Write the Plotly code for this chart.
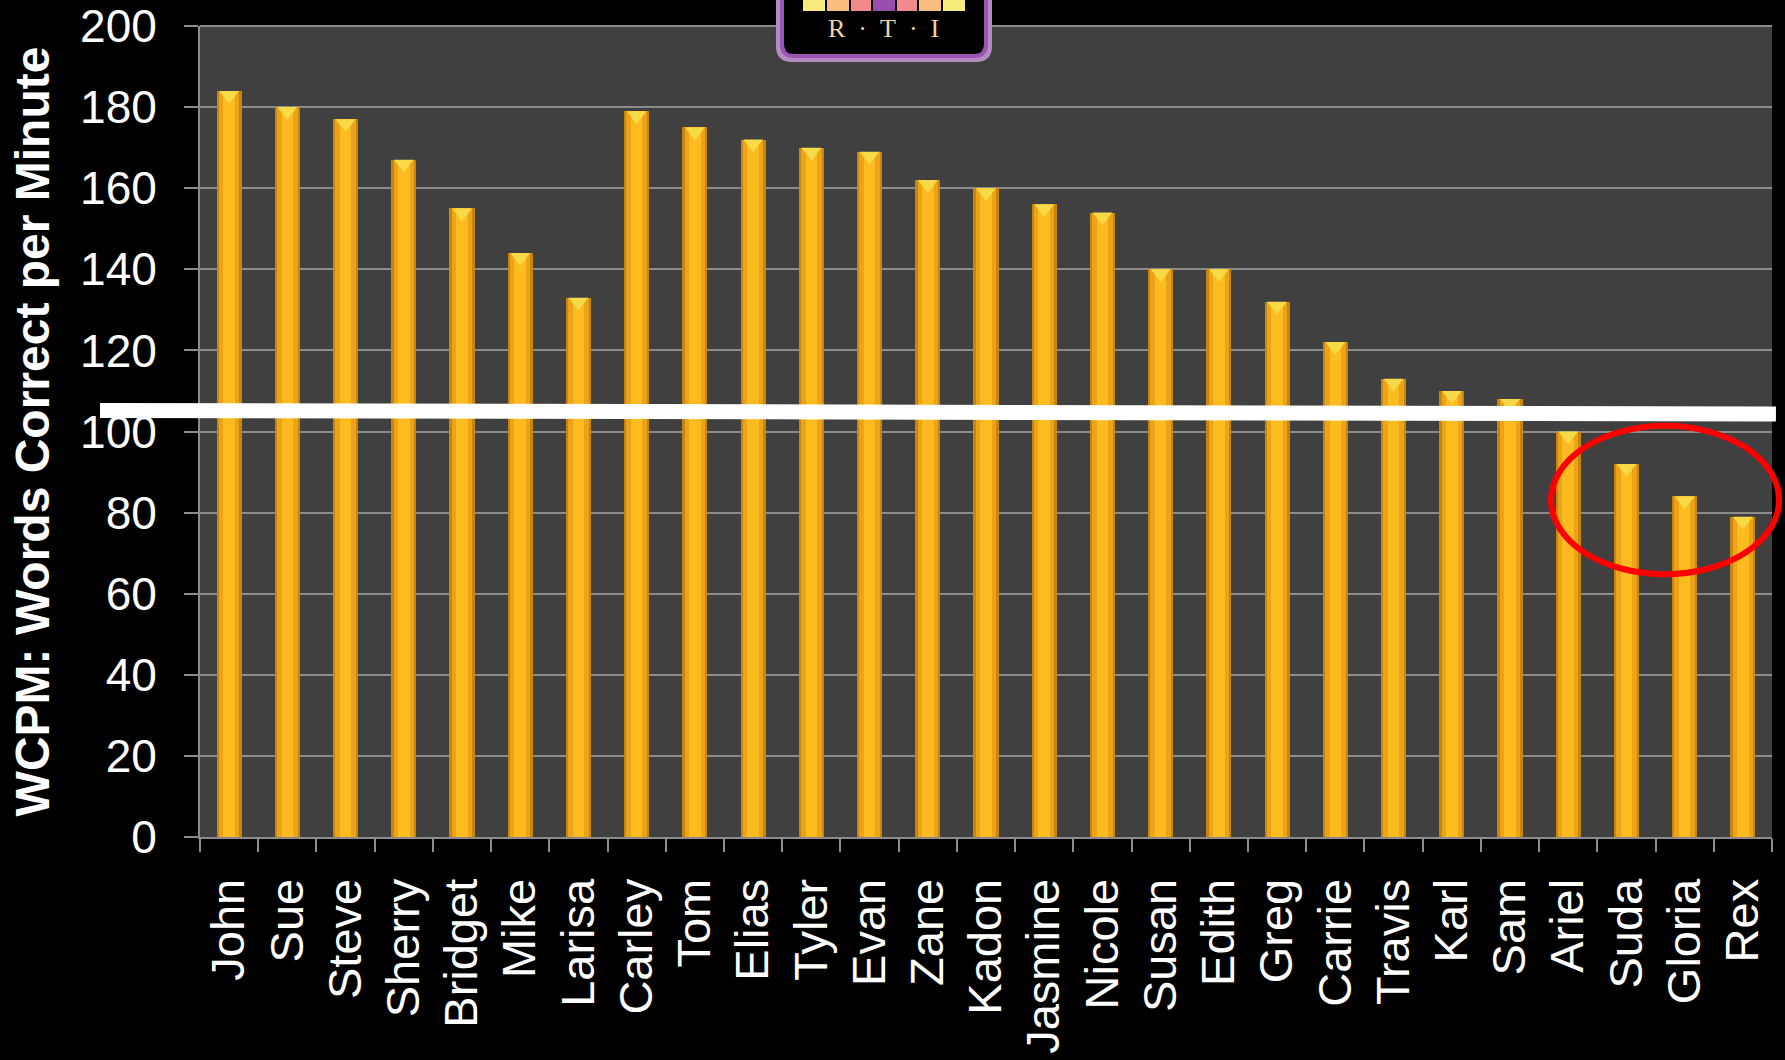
import plotly.graph_objects as go

# Students and their oral reading fluency scores (words correct per minute)
students = ["John", "Sue", "Steve", "Sherry", "Bridget", "Mike", "Larisa", "Carley",
            "Tom", "Elias", "Tyler", "Evan", "Zane", "Kadon", "Jasmine", "Nicole",
            "Susan", "Edith", "Greg", "Carrie", "Travis", "Karl", "Sam", "Ariel",
            "Suda", "Gloria", "Rex"]
wcpm = [184, 180, 177, 167, 155, 144, 133, 179, 175, 172, 170, 169, 162, 160,
        156, 154, 140, 140, 132, 122, 113, 110, 108, 100, 92, 84, 79]

# Benchmark line (slightly tilted as drawn) and the highlighted at-risk zone
benchmark_left = 105.2
benchmark_right = 104.3
risk_zone_top = 101.4
risk_zone_bottom = 64.8

y_ticks = [0, 20, 40, 60, 80, 100, 120, 140, 160, 180, 200]

FONT = "Liberation Sans, Arial, sans-serif"
GRID = "#8C8C8C"

fig = go.Figure()

# Layered bars give the gold, rounded look: dark rim, body, bright core
for width, color in [(0.43, "#C5850E"), (0.35, "#EDA318"), (0.2, "#FCBC20")]:
    fig.add_trace(go.Bar(
        x=students, y=wcpm, width=width,
        marker=dict(color=color, line=dict(width=0)),
        hoverinfo="x+y", showlegend=False,
    ))

# Bevelled highlight on the top face of every bar
fig.add_trace(go.Scatter(
    x=students, y=[v - 1.05 for v in wcpm], mode="markers",
    marker=dict(symbol="triangle-down", size=17, color="#F8DA48",
                line=dict(width=0)),
    hoverinfo="skip", showlegend=False,
))

shapes = [
    # top gridline (at the very edge of the value range)
    dict(type="line", xref="paper", yref="paper", x0=0, x1=1, y0=1, y1=1,
         line=dict(color=GRID, width=2), layer="below"),
    # benchmark
    dict(type="line", xref="paper", yref="y",
         x0=-0.0636, x1=1.0025, y0=benchmark_left, y1=benchmark_right,
         line=dict(color="white", width=15), layer="above"),
    # at-risk students ring
    dict(type="circle", xref="paper", yref="y",
         x0=0.8594, x1=1.0045, y0=risk_zone_bottom, y1=risk_zone_top,
         line=dict(color="#FF0000", width=6), layer="above"),
]

# RTI badge at the top of the chart (pixel-sized, anchored to the plot top)
LOGO_X = 0.4351


def badge(**kw):
    base = dict(xref="paper", yref="paper", xsizemode="pixel", ysizemode="pixel",
                xanchor=LOGO_X, yanchor=1, layer="above")
    base.update(kw)
    return base


shapes.append(badge(type="path",
                    path="M -107,44 L -107,-20 Q -107,-35 -92,-35 L 92,-35 "
                         "Q 107,-35 107,-20 L 107,44 Z",
                    fillcolor="#B48AC2", line=dict(color="#B48AC2", width=2)))
shapes.append(badge(type="path",
                    path="M -102,44 L -102,-18 Q -102,-30 -90,-30 L 90,-30 "
                         "Q 102,-30 102,-18 L 102,44 Z",
                    fillcolor="#000000", line=dict(color="#9A55B0", width=4)))

fan = [(-81, -59, "#F6EC7E"), (-57, -35, "#FBBE7E"), (-33, -13, "#F08A8E"),
       (-11, 11, "#9A4DB0"), (13, 33, "#F08A8E"), (35, 57, "#FBBE7E"),
       (59, 81, "#F6EC7E")]
for x0, x1, col in fan:
    shapes.append(badge(type="rect", x0=x0, x1=x1, y0=15, y1=44,
                        fillcolor=col, line=dict(width=0)))

annotations = [
    dict(text="R\u00a0\u00a0·\u00a0\u00a0T\u00a0\u00a0·\u00a0\u00a0I",
         xref="paper", yref="paper", x=LOGO_X, y=1, yshift=-2,
         xanchor="center", yanchor="middle", showarrow=False,
         font=dict(family="Liberation Serif, DejaVu Serif, serif", size=26,
                   color="#F2D2A6")),
]

fig.update_layout(
    width=1785, height=1060,
    margin=dict(l=200, r=13, t=26, b=223, autoexpand=False),
    paper_bgcolor="#000000", plot_bgcolor="#404040",
    barmode="overlay", bargap=0,
    font=dict(family=FONT, color="white"),
    shapes=shapes, annotations=annotations,
    showlegend=False,
)

fig.update_xaxes(
    type="category", tickangle=-90,
    range=[-0.5, len(students) - 0.5],
    tickmode="array", tickvals=students, ticktext=students,
    tickfont=dict(size=47, color="white", family=FONT),
    showline=True, linecolor=GRID, linewidth=2,
    ticks="outside", tickson="boundaries", ticklen=13, tickwidth=2, tickcolor=GRID,
    ticklabelstandoff=21, showgrid=False, zeroline=False,
)

fig.update_yaxes(
    range=[0, 200], tickvals=y_ticks,
    tickfont=dict(size=46, color="white", family=FONT),
    ticklabeloverflow="allow",
    showline=True, linecolor=GRID, linewidth=2,
    ticks="outside", ticklen=14, tickwidth=2, tickcolor=GRID,
    ticklabelstandoff=18,
    showgrid=True, gridcolor=GRID, gridwidth=2, zeroline=False,
    title=dict(text="<b>WCPM: Words Correct per Minute</b>", standoff=15,
               font=dict(size=48, color="white", family=FONT)),
)

fig.write_html("out.html")
